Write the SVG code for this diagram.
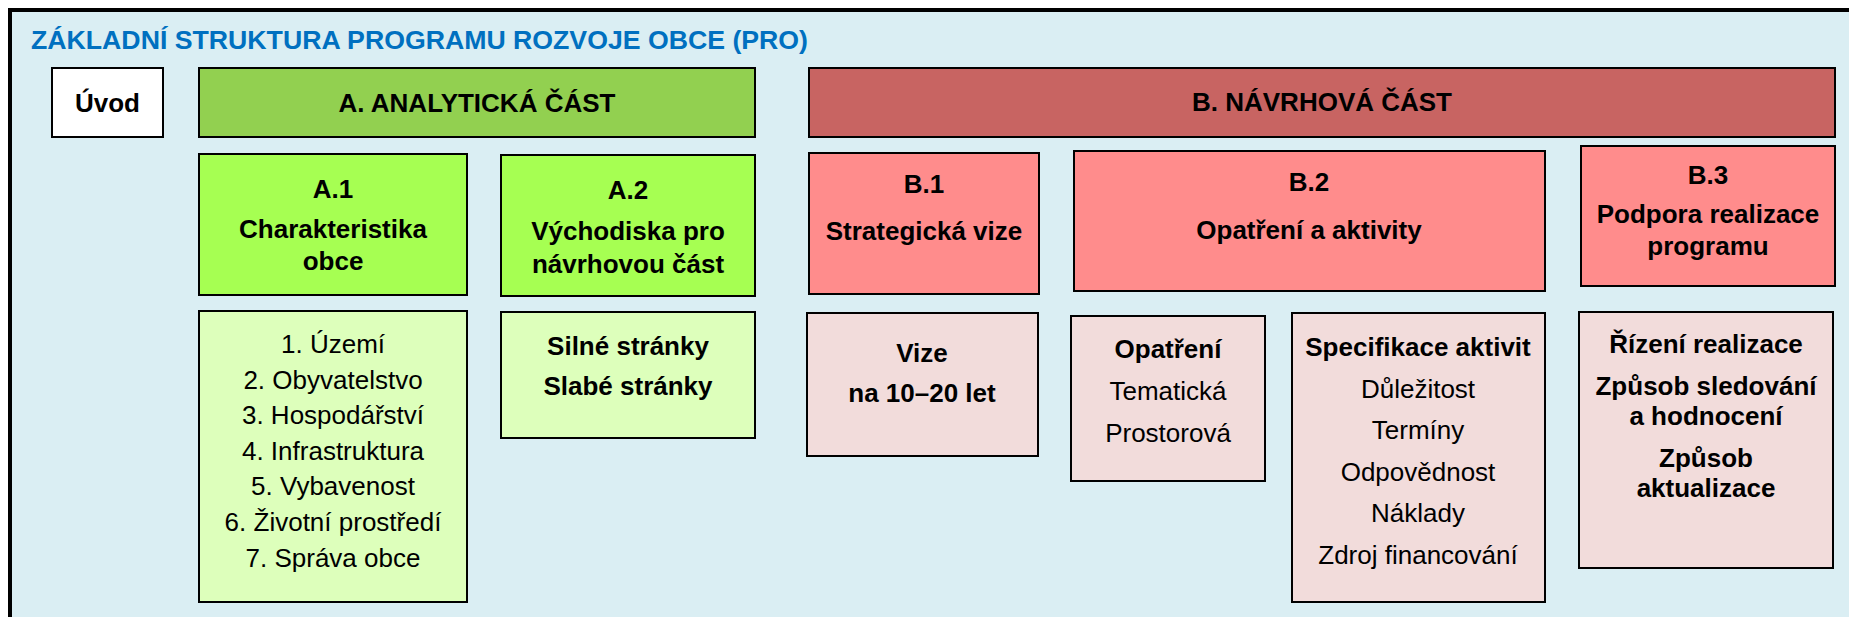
<svg xmlns="http://www.w3.org/2000/svg" width="1849" height="617" viewBox="0 0 1849 617">
<style>
text{font-family:"Liberation Sans",Arial,sans-serif;font-size:26px;fill:#000;text-anchor:middle}
.b{font-weight:bold}
.box{stroke:#000;stroke-width:2}
.title{font-weight:bold;fill:#0070C0;text-anchor:start;font-size:25px}
</style>
<rect x="0" y="0" width="1849" height="617" fill="#fff"/>
<rect x="10" y="10" width="1860" height="630" fill="#DAEEF3" stroke="#000" stroke-width="4"/>
<text class="title" x="31" y="49" textLength="777" lengthAdjust="spacingAndGlyphs">ZÁKLADNÍ STRUKTURA PROGRAMU ROZVOJE OBCE (PRO)</text>
<g id="uvod">
<rect class="box" x="52" y="68" width="111" height="69" fill="#fff"/>
<text class="b" x="107.5" y="112">Úvod</text>
</g>
<g id="a">
<rect class="box" x="199" y="68" width="556" height="69" fill="#92D050"/>
<text class="b" x="477" y="112">A. ANALYTICKÁ ČÁST</text>
</g>
<g id="b">
<rect class="box" x="809" y="68" width="1026" height="69" fill="#C86462"/>
<text class="b" x="1322" y="111">B. NÁVRHOVÁ ČÁST</text>
</g>
<g id="a1">
<rect class="box" x="199" y="154" width="268" height="141" fill="#A6FF52"/>
<text class="b" x="333" y="198">A.1</text>
<text class="b" x="333" y="238">Charakteristika</text>
<text class="b" x="333" y="270">obce</text>
</g>
<g id="a2">
<rect class="box" x="501" y="155" width="254" height="141" fill="#A6FF52"/>
<text class="b" x="628" y="199">A.2</text>
<text class="b" x="628" y="240">Východiska pro</text>
<text class="b" x="628" y="273">návrhovou část</text>
</g>
<g id="b1">
<rect class="box" x="809" y="153" width="230" height="141" fill="#FF8C8C"/>
<text class="b" x="924" y="193">B.1</text>
<text class="b" x="924" y="240">Strategická vize</text>
</g>
<g id="b2">
<rect class="box" x="1074" y="151" width="471" height="140" fill="#FF8C8C"/>
<text class="b" x="1309" y="191">B.2</text>
<text class="b" x="1309" y="239">Opatření a aktivity</text>
</g>
<g id="b3">
<rect class="box" x="1581" y="146" width="254" height="140" fill="#FF8C8C"/>
<text class="b" x="1708" y="184">B.3</text>
<text class="b" x="1708" y="223">Podpora realizace</text>
<text class="b" x="1708" y="255">programu</text>
</g>
<g id="a1-list">
<rect class="box" x="199" y="311" width="268" height="291" fill="#DDFFBB"/>
<text x="333" y="353">1. Území</text>
<text x="333" y="388.6">2. Obyvatelstvo</text>
<text x="333" y="424.2">3. Hospodářství</text>
<text x="333" y="459.8">4. Infrastruktura</text>
<text x="333" y="495.4">5. Vybavenost</text>
<text x="333" y="531">6. Životní prostředí</text>
<text x="333" y="566.6">7. Správa obce</text>
</g>
<g id="a2-list">
<rect class="box" x="501" y="312" width="254" height="126" fill="#DDFFBB"/>
<text class="b" x="628" y="355">Silné stránky</text>
<text class="b" x="628" y="395">Slabé stránky</text>
</g>
<g id="b1-list">
<rect class="box" x="807" y="313" width="231" height="143" fill="#F2DCDB"/>
<text class="b" x="922" y="361.5">Vize</text>
<text class="b" x="922" y="401.5">na 10–20 let</text>
</g>
<g id="opatreni">
<rect class="box" x="1071" y="316" width="194" height="165" fill="#F2DCDB"/>
<text class="b" x="1168" y="358">Opatření</text>
<text x="1168" y="400">Tematická</text>
<text x="1168" y="441.5">Prostorová</text>
</g>
<g id="specifikace">
<rect class="box" x="1292" y="313" width="253" height="289" fill="#F2DCDB"/>
<text class="b" x="1418" y="356">Specifikace aktivit</text>
<text x="1418" y="397.5">Důležitost</text>
<text x="1418" y="439">Termíny</text>
<text x="1418" y="480.5">Odpovědnost</text>
<text x="1418" y="522">Náklady</text>
<text x="1418" y="563.5">Zdroj financování</text>
</g>
<g id="rizeni">
<rect class="box" x="1579" y="312" width="254" height="256" fill="#F2DCDB"/>
<text class="b" x="1706" y="353">Řízení realizace</text>
<text class="b" x="1706" y="395">Způsob sledování</text>
<text class="b" x="1706" y="425">a hodnocení</text>
<text class="b" x="1706" y="466.5">Způsob</text>
<text class="b" x="1706" y="496.5">aktualizace</text>
</g>
<g id="connectors"/>
</svg>
